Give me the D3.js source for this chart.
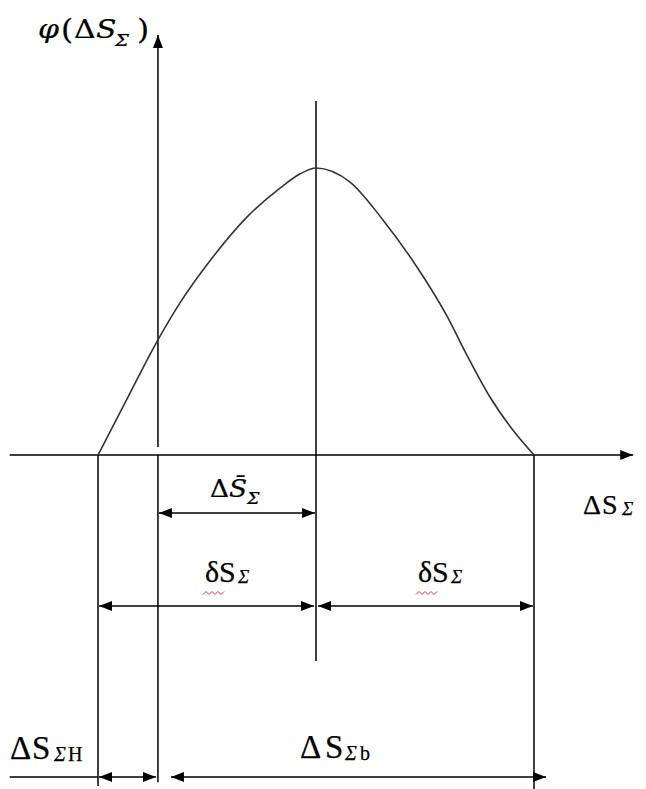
<!DOCTYPE html>
<html>
<head>
<meta charset="utf-8">
<script src="https://cdn.jsdelivr.net/npm/d3@7"></script>
<style>
  body { margin: 0; background: #fff; }
  text { fill: #000; }
</style>
</head>
<body>
<svg id="chart" width="646" height="789"></svg>
<script>
// Distribution density φ(ΔSΣ): abscissa in units of ΔSΣ, ordinate normalised to the peak
const curveX = [-2.75, -1.28, 0, 1.01, 2.52, 4.08, 5.60, 6.51, 7.25, 8.81, 10.32, 11.88, 13.26, 14.22, 15.23, 16.28, 17.25];
const curveY = [0, 0.216, 0.401, 0.530, 0.690, 0.829, 0.930, 0.979, 1, 0.951, 0.819, 0.655, 0.484, 0.341, 0.202, 0.087, 0];

// Characteristic abscissae: lower limit, origin, mean value, upper limit
const sLow = -2.75;
const sOrigin = 0;
const sMean = 7.25;
const sHigh = 17.25;

// Axis extents
const xAxisExtent = [-6.8, 21.8];
const yAxisExtent = [-1.14, 1.463];

const svg = d3.select("#chart");

const x = d3.scaleLinear().domain([sLow, sHigh]).range([98, 534]);
const y = d3.scaleLinear().domain([0, 1]).range([455, 168]);

// arrowhead marker
svg.append("defs").append("marker")
  .attr("id", "arrow")
  .attr("viewBox", "0 0 13 10")
  .attr("refX", 13).attr("refY", 5)
  .attr("markerUnits", "userSpaceOnUse")
  .attr("markerWidth", 13).attr("markerHeight", 10)
  .attr("orient", "auto-start-reverse")
  .append("path").attr("d", "M0,0 L13,5 L0,10 Z").attr("fill", "#000");

const line = (x1, y1, x2, y2, start, end, w = 1.5) => {
  const l = svg.append("line")
    .attr("x1", x1).attr("y1", y1).attr("x2", x2).attr("y2", y2)
    .attr("stroke", "#000").attr("stroke-width", w);
  if (start) l.attr("marker-start", "url(#arrow)");
  if (end) l.attr("marker-end", "url(#arrow)");
  return l;
};

const y0 = y(0);

// horizontal axis
line(x(xAxisExtent[0]), y0, x(xAxisExtent[1]), y0, false, true);
// vertical axis (broken just above the abscissa)
line(x(sOrigin), y(yAxisExtent[1]), x(sOrigin), y0 - 8, true, false);
line(x(sOrigin), y0, x(sOrigin), y(yAxisExtent[0]));

// reference verticals
line(x(sLow), y0, x(sLow), 786);
line(x(sMean), 101, x(sMean), 661);
line(x(sHigh), y0, x(sHigh), 789);

// density curve
svg.append("path")
  .datum(curveX.map((v, i) => [v, curveY[i]]))
  .attr("fill", "none")
  .attr("stroke", "#333")
  .attr("stroke-width", 1.6)
  .attr("d", d3.line().x(d => x(d[0])).y(d => y(d[1])).curve(d3.curveMonotoneX));

// dimension lines
const dimMean = 513, dimDelta = 606, dimBottom = 777;
line(x(sOrigin) + 1, dimMean, x(sMean) - 1, dimMean, true, true);
line(x(sLow) + 1, dimDelta, x(sMean) - 2, dimDelta, true, true);
line(x(sMean) + 2, dimDelta, x(sHigh) - 1, dimDelta, true, true);
line(x(xAxisExtent[0]), dimBottom, x(sLow), dimBottom);
line(x(sLow) + 1, dimBottom, x(sOrigin) - 2, dimBottom, true, true);
line(x(sOrigin) + 13, dimBottom, x(sHigh) + 12, dimBottom, true, true);

const SERIF = "'Liberation Serif', 'Times New Roman', serif";
const MATH = "'DejaVu Serif', serif";

// labels: each glyph group placed at its own offset from the label origin,
// with an optional horizontal stretch of the glyphs
function label(px, py, size, family, parts, sx = 1) {
  const t = svg.append("text")
    .attr("transform", `translate(${px},${py}) scale(${sx},1)`)
    .attr("font-family", family)
    .attr("font-size", size)
    .attr("stroke", "#000").attr("stroke-width", 0.25);
  parts.forEach(p => {
    t.append("tspan")
      .attr("x", p.dx / sx)
      .attr("y", p.dy || 0)
      .attr("font-size", p.size || size)
      .attr("font-style", p.italic ? "italic" : "normal")
      .text(p.t);
  });
  return t;
}

label(38, 38, 26, MATH, [
  { t: "φ", dx: 0, italic: true },
  { t: "(", dx: 23, size: 27, dy: 1 },
  { t: "Δ", dx: 36 },
  { t: "S", dx: 58, italic: true },
  { t: "Σ", dx: 77, italic: true, size: 17, dy: 8 },
  { t: ")", dx: 99, size: 27, dy: 1 }
], 1.15);

label(210, 497, 24, MATH, [
  { t: "Δ", dx: 0 },
  { t: "S\u0304", dx: 19, italic: true },
  { t: "Σ", dx: 37, italic: true, size: 16, dy: 7 }
], 1.1);

[205, 418].forEach(lx => {
  label(lx, 582, 30, SERIF, [
    { t: "δ", dx: 0 },
    { t: "S", dx: 14 },
    { t: "Σ", dx: 33, italic: true, size: 19, dy: 1 }
  ]);
  // spell-check squiggle beneath δ
  const pts = d3.range(0, 8).map(i => [lx - 2 + i * 3, 593 + (i % 2 ? -1.5 : 1.5)]);
  svg.append("path")
    .attr("d", d3.line()(pts))
    .attr("fill", "none").attr("stroke", "#e33").attr("stroke-width", 1);
});

label(583, 514, 28, SERIF, [
  { t: "Δ", dx: 0 },
  { t: "S", dx: 19 },
  { t: "Σ", dx: 39, italic: true, size: 19, dy: 1 }
]);

label(10, 759, 33, SERIF, [
  { t: "Δ", dx: 0 },
  { t: "S", dx: 22 },
  { t: "Σ", dx: 44, italic: true, size: 20, dy: 2 },
  { t: "H", dx: 58, size: 20, dy: 2 }
]);

label(300, 758, 33, SERIF, [
  { t: "Δ", dx: 0 },
  { t: "S", dx: 25 },
  { t: "Σ", dx: 45, italic: true, size: 20, dy: 2 },
  { t: "b", dx: 60, size: 20, dy: 2 }
]);
</script>
</body>
</html>
